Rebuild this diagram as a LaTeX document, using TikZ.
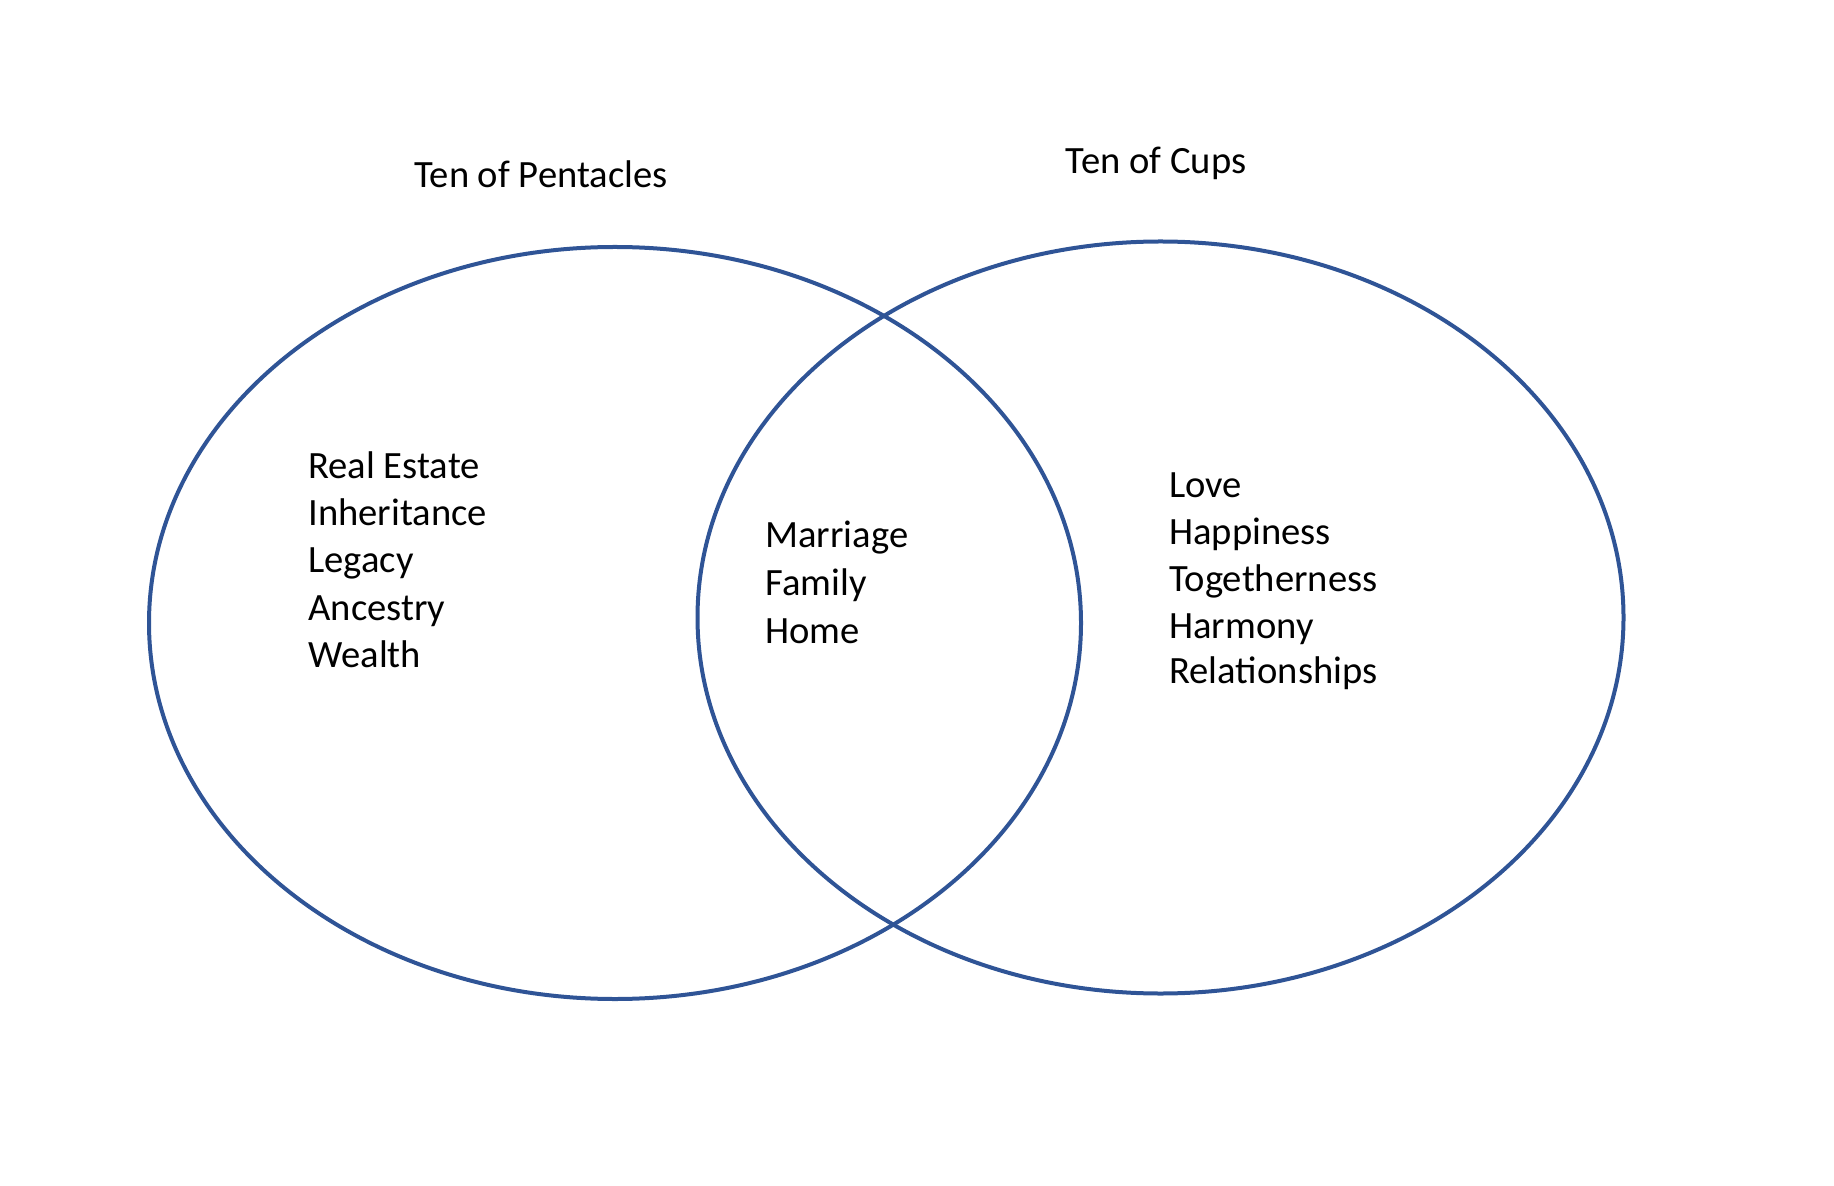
\documentclass[tikz,border=0pt]{standalone}
\usepackage{fontspec}
\setmainfont{Carlito}
\definecolor{vennblue}{RGB}{47,84,150}
\tikzset{
  venn/.style={draw=vennblue, line width=2pt},
  word/.style={anchor=base west, inner sep=0pt, font=\fontsize{19.3pt}{24pt}\selectfont}
}
\begin{document}
\begin{tikzpicture}[x=0.5pt,y=-0.5pt]
        \useasboundingbox (0,0) rectangle (1834,1186);
        % Circles
        \draw[venn] (615,623) ellipse [x radius=233pt, y radius=188pt];
        \draw[venn] (1160.5,617.5) ellipse [x radius=231.5pt, y radius=188pt];
        % Titles
        \node[word] (pentacles) at (414,187.5) {Ten of Pentacles};
        \node[word] (cups) at (1065.5,174) {Ten of Cups};
        % Ten of Pentacles only
        \node[word] (estate) at (308,479) {Real Estate};
        \node[word] (inheritance) at (308,526) {Inheritance};
        \node[word] (legacy) at (308,573) {Legacy};
        \node[word] (ancestry) at (308,620) {Ancestry};
        \node[word] (wealth) at (308,667) {Wealth};
        % Both
        \node[word] (marriage) at (765,548) {Marriage};
        \node[word] (family) at (765,595.5) {Family};
        \node[word] (home) at (765,643) {Home};
        % Ten of Cups only
        \node[word] (love) at (1169,498) {Love};
        \node[word] (happiness) at (1169,544.5) {Happiness};
        \node[word] (togetherness) at (1169,591) {Togetherness};
        \node[word] (harmony) at (1169,638) {Harmony};
        \node[word] (relationships) at (1169,683.5) {Relationships};
    \end{tikzpicture}
\end{document}
